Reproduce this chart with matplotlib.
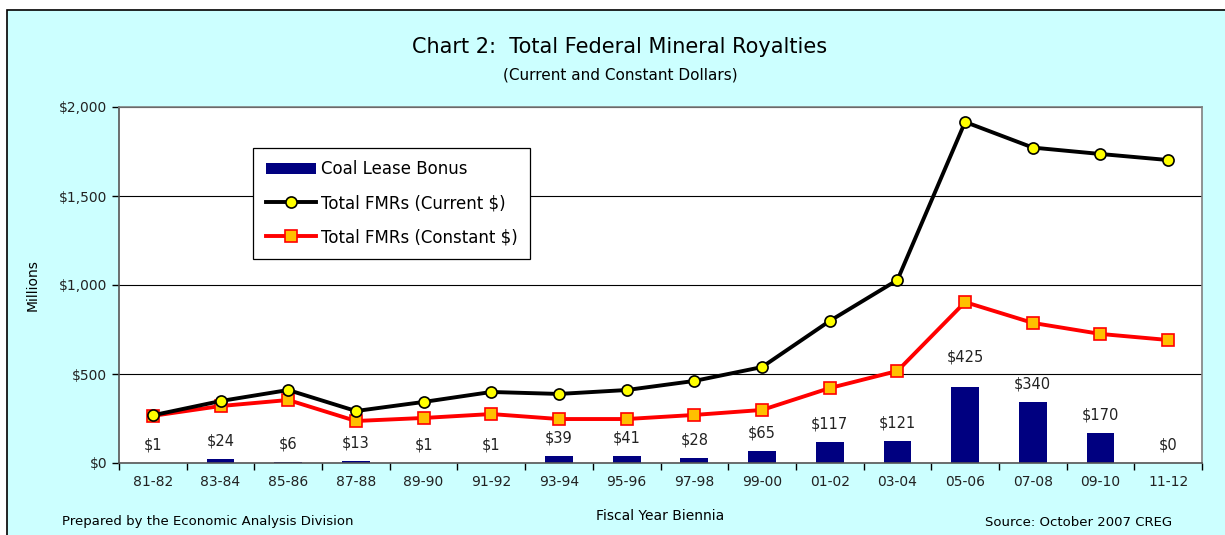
import numpy as np
import matplotlib.pyplot as plt
from matplotlib.patches import Rectangle
from matplotlib.ticker import FuncFormatter

# data (millions of dollars)
biennia = ["81-82", "83-84", "85-86", "87-88", "89-90", "91-92", "93-94", "95-96",
           "97-98", "99-00", "01-02", "03-04", "05-06", "07-08", "09-10", "11-12"]
coal_bonus = [1, 24, 6, 13, 1, 1, 39, 41, 28, 65, 117, 121, 425, 340, 170, 0]
fmr_current = [268, 348, 410, 292, 343, 399, 388, 410, 461, 539, 798, 1028,
               1916, 1772, 1736, 1702]
fmr_constant = [265, 320, 354, 236, 253, 275, 247, 247, 270, 298, 421, 517,
                904, 787, 725, 691]

BG = "#CCFFFF"

fig = plt.figure(figsize=(12.25, 5.35), dpi=100)
fig.patch.set_facecolor("white")

# cyan chart frame (runs off the right/bottom edge like the source)
frame = Rectangle((7 / 1225, -0.05), 1.2, 1 - 10 / 535 + 0.05,
                  transform=fig.transFigure, facecolor=BG, edgecolor="black",
                  lw=1.2, zorder=-10)
fig.patches.append(frame)

ax = fig.add_axes([119 / 1225, 1 - 463 / 535, (1202 - 119) / 1225, (463 - 107) / 535])
ax.set_facecolor("white")

x = np.arange(len(biennia))
bars = ax.bar(x, coal_bonus, width=0.41, color="#000080", zorder=2,
              label="Coal Lease Bonus")
l1, = ax.plot(x, fmr_current, "-o", color="black", lw=2.8, ms=8,
              mfc="#FFFF00", mec="black", mew=1.2, zorder=4,
              label="Total FMRs (Current $)")
l2, = ax.plot(x, fmr_constant, "-s", color="#FF0000", lw=2.8, ms=8,
              mfc="#FFC000", mec="#FF0000", mew=1.2, zorder=3,
              label="Total FMRs (Constant $)")

for xi, v in zip(x, coal_bonus):
    # the $425 label sits higher, clear of the red line
    dy = 22 if v > 400 else 13
    ax.annotate(f"${v}", (xi, v), xytext=(0, dy), textcoords="offset points",
                ha="center", va="center", fontsize=10.5, color="#222222")

ax.set_xlim(-0.5, len(biennia) - 0.5)
ax.set_ylim(0, 2000)
ax.set_yticks([0, 500, 1000, 1500, 2000])
ax.yaxis.set_major_formatter(FuncFormatter(lambda v, _: f"${v:,.0f}"))
ax.set_xticks(x)
ax.set_xticklabels(biennia)
ax.set_xticks(np.arange(-0.5, len(biennia), 1), minor=True)
ax.tick_params(axis="x", which="major", length=0, pad=9, labelsize=10,
               labelcolor="#222222")
ax.tick_params(axis="x", which="minor", length=5, width=1, direction="out")
ax.tick_params(axis="y", length=5, width=1, direction="out", labelsize=10,
               labelcolor="#222222")

ax.grid(axis="y", color="black", lw=0.8, zorder=0)
ax.set_axisbelow(True)
for s in ["top", "right"]:
    ax.spines[s].set_color("#808080")
    ax.spines[s].set_linewidth(1.2)
for s in ["left", "bottom"]:
    ax.spines[s].set_color("#555555")
    ax.spines[s].set_linewidth(1.2)

ax.set_ylabel("Millions", fontsize=10, labelpad=14)
ax.set_xlabel("Fiscal Year Biennia", fontsize=10, labelpad=14)

leg = ax.legend([bars, l1, l2], [bars.get_label(), l1.get_label(), l2.get_label()],
                loc="upper left", bbox_to_anchor=(0.124, 0.885), fontsize=12,
                frameon=True, fancybox=False, edgecolor="black", framealpha=1,
                borderpad=0.75, labelspacing=0.95, handlelength=3.0,
                handletextpad=0.3, borderaxespad=0)
leg.get_frame().set_linewidth(0.9)

fig.text(620 / 1225, 1 - 47 / 535, "Chart 2:  Total Federal Mineral Royalties",
         ha="center", va="center", fontsize=15)
fig.text(620 / 1225, 1 - 75 / 535, "(Current and Constant Dollars)",
         ha="center", va="center", fontsize=11)
fig.text(62 / 1225, 1 - 522 / 535, "Prepared by the Economic Analysis Division",
         ha="left", va="center", fontsize=9.5)
fig.text(1172 / 1225, 1 - 522 / 535, "Source: October 2007 CREG",
         ha="right", va="center", fontsize=9.5)

fig.savefig("out.png", dpi=100, facecolor=fig.get_facecolor())
